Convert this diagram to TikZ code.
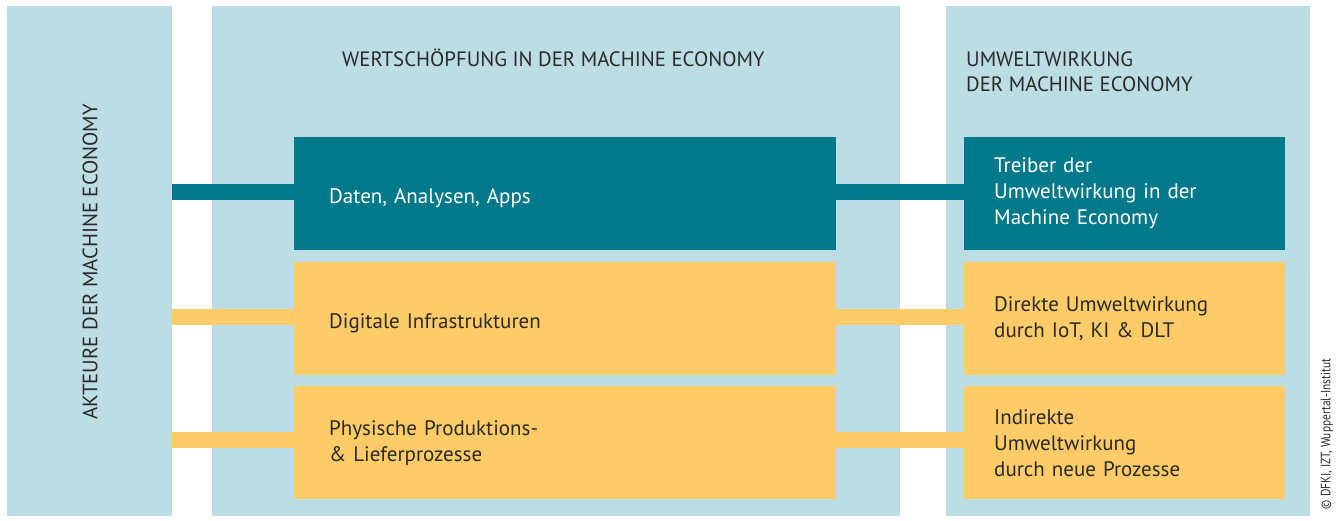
\documentclass[tikz,border=0pt]{standalone}
\usepackage{fontspec}
\setmainfont{PT Sans}
\definecolor{panelblue}{HTML}{BCDDE3}
\definecolor{tealbox}{HTML}{00798A}
\definecolor{sunbox}{HTML}{FDCB67}
\definecolor{ink}{HTML}{2A2A2A}
% single-line labels sit slightly below the box centre
\newcommand{\lowered}[1]{\raisebox{0pt}[\dimexpr\height+9pt\relax]{#1}}
\begin{document}
\begin{tikzpicture}[x=1pt,y=-1pt,
  panel/.style={fill=panelblue,draw=none,anchor=north west,inner sep=0pt},
  box/.style={draw=none,anchor=north west,minimum height=113pt,align=left,
    font=\fontsize{21}{26}\selectfont},
  midbox/.style={box,text width=472pt,inner xsep=35pt,minimum width=542pt},
  sidebox/.style={box,text width=261pt,inner xsep=30pt,minimum width=321pt},
  darkbox/.style={fill=tealbox,text=white},
  lightbox/.style={fill=sunbox,text=ink},
  link/.style={line width=16pt,line cap=butt},
  heading/.style={text=ink,font=\fontsize{20.8}{25}\selectfont,inner sep=0pt,align=left}
]
\useasboundingbox[fill=white] (0,0) rectangle (1341,520);

% background columns
\node[panel,minimum width=165pt,minimum height=510pt] (akteure) at (7,6) {};
\node[panel,minimum width=688pt,minimum height=510pt] (wert) at (212,6) {};
\node[panel,minimum width=364pt,minimum height=510pt] (umwelt) at (946,6) {};

% column titles
\node[heading,rotate=90] (akteuretitle) at (90,262) {AKTEURE DER MACHINE ECONOMY};
\node[heading,anchor=west] (werttitle) at (342,58) {WERTSCHÖPFUNG IN DER MACHINE ECONOMY};
\node[heading,anchor=north west] (umwelttitle) at (966,51) {UMWELTWIRKUNG\\DER MACHINE ECONOMY};

% value-creation layers
\node[midbox,darkbox] (daten) at (294,137) {\lowered{Daten, Analysen, Apps}};
\node[midbox,lightbox] (infra) at (294,262) {\lowered{Digitale Infrastrukturen}};
\node[midbox,lightbox] (prozesse) at (294,386) {Physische Produktions-\\\& Lieferprozesse};

% environmental effects
\node[sidebox,darkbox] (treiber) at (964,137) {Treiber der\\Umweltwirkung in der\\Machine Economy};
\node[sidebox,lightbox] (direkt) at (964,262) {Direkte Umweltwirkung\\durch IoT, KI \& DLT};
\node[sidebox,lightbox] (indirekt) at (964,386) {Indirekte\\Umweltwirkung\\durch neue Prozesse};

% links from the actors and to the effects
\draw[link,tealbox] (akteure.east |- 0,192) -- (daten.west |- 0,192);
\draw[link,tealbox] (daten.east |- 0,192) -- (treiber.west |- 0,192);
\draw[link,sunbox] (akteure.east |- 0,317) -- (infra.west |- 0,317);
\draw[link,sunbox] (infra.east |- 0,317) -- (direkt.west |- 0,317);
\draw[link,sunbox] (akteure.east |- 0,440) -- (prozesse.west |- 0,440);
\draw[link,sunbox] (prozesse.east |- 0,440) -- (indirekt.west |- 0,440);

% credit line
\node[rotate=90,text=ink,inner sep=0pt,font=\fontsize{13.5}{15}\selectfont] (credit) at (1327,434)
  {\scalebox{0.84}[1]{© DFKI, IZT, Wuppertal-Institut}};
\end{tikzpicture}
\end{document}
